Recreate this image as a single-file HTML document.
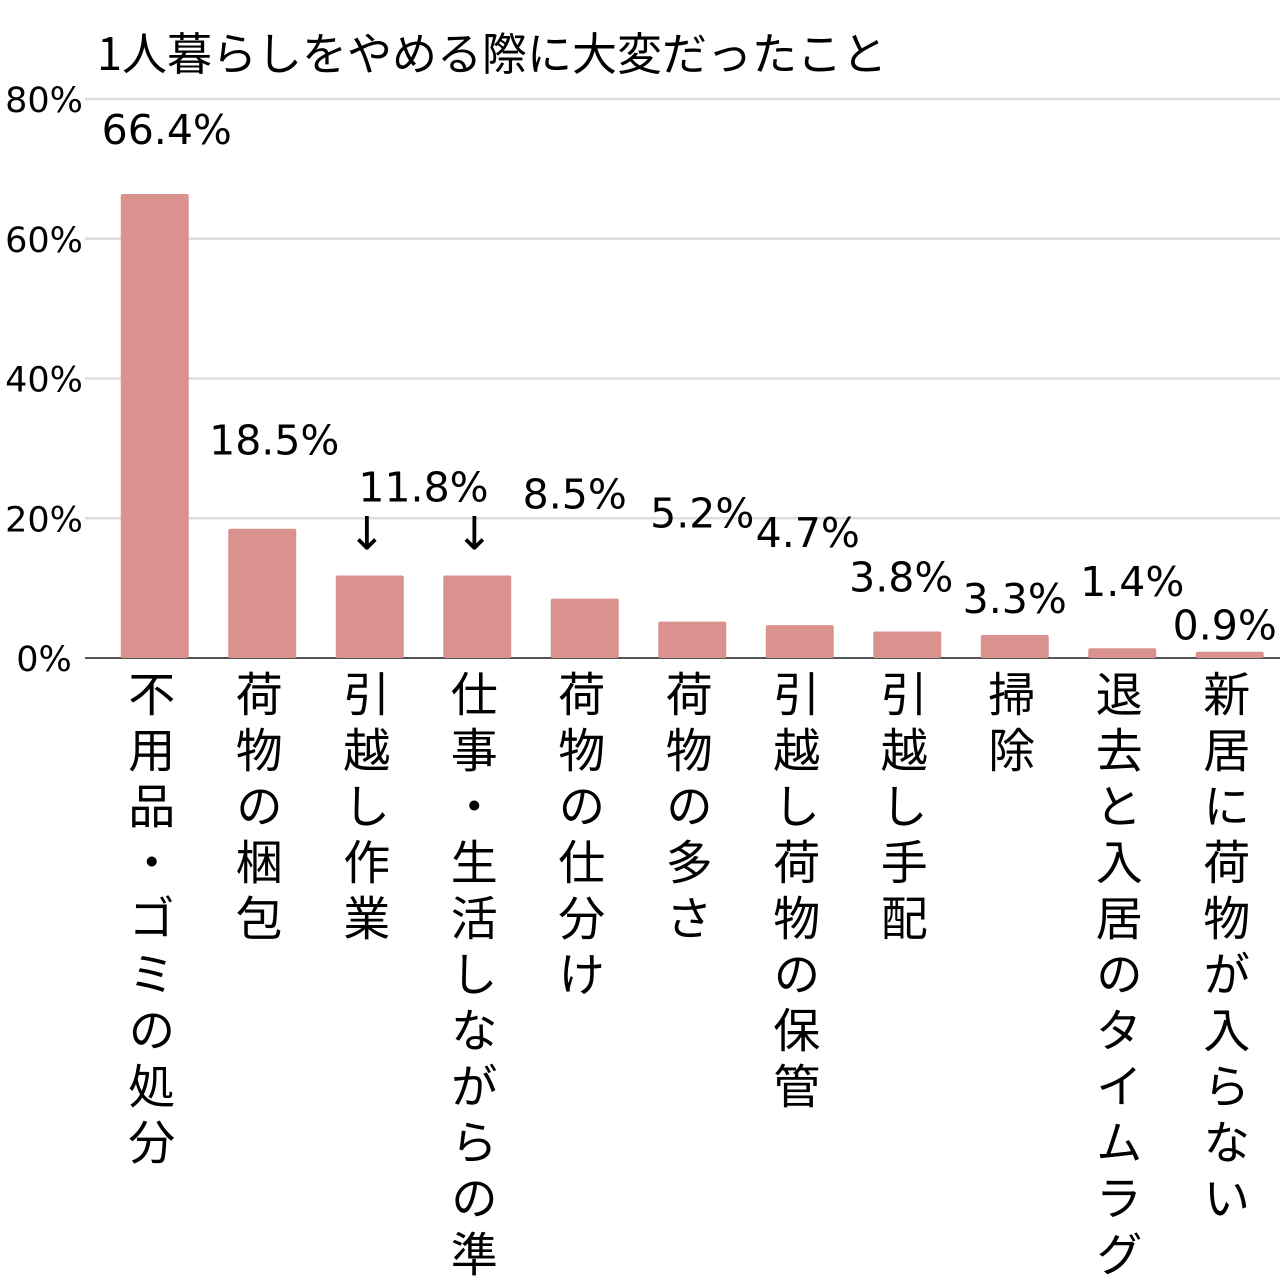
<!DOCTYPE html>
<html><head><meta charset="utf-8"><style>
html,body{margin:0;padding:0;background:#fff;width:1280px;height:1280px;overflow:hidden}
svg text{font-family:"DejaVu Sans","Noto Sans CJK JP",sans-serif;fill:#000}
svg text.cjk{font-family:"Noto Sans CJK JP",sans-serif}
</style></head><body>
<svg id="chart" width="1280" height="1280" xmlns="http://www.w3.org/2000/svg">
<text x="97" y="70" font-size="45" class="cjk">1人暮らしをやめる際に大変だったこと</text>
<g id="grid"></g><g id="bars"></g><g id="labels"></g>
</svg>
<script>
const categories=["不用品・ゴミの処分","荷物の梱包","引越し作業","仕事・生活しながらの準備","荷物の仕分け","荷物の多さ","引越し荷物の保管","引越し手配","掃除","退去と入居のタイムラグ","新居に荷物が入らない"];
const values=[66.4,18.5,11.8,11.8,8.5,5.2,4.7,3.8,3.3,1.4,0.9];
const valueLabels=["66.4%","18.5%","","","8.5%","5.2%","4.7%","3.8%","3.3%","1.4%","0.9%"];
const yTicks=[0,20,40,60,80];
const yTickLabels=["0%","20%","40%","60%","80%"];
const NS="http://www.w3.org/2000/svg";
const y0=658,pxPer=(658-99)/80,x0=101,band=107.5,bw=68;
const y=v=>y0-v*pxPer, xc=i=>x0+band*(i+0.5);
function mk(t,a,p){const e=document.createElementNS(NS,t);for(const k in a)e.setAttribute(k,a[k]);p.appendChild(e);return e;}
const grid=document.getElementById('grid'),bars=document.getElementById('bars'),labels=document.getElementById('labels');
yTicks.forEach((t,i)=>{
 const l=mk('line',{x1:85,x2:1280,y1:y(t),y2:y(t),stroke:t===0?'#555':'#ddd','stroke-width':t===0?2:2.5},grid);
 
 
 const tx=mk('text',{x:44,y:y(t)+13,'font-size':35,'text-anchor':'middle'},grid);
 tx.textContent=yTickLabels[i];
 
 
});
const lift=[50,74,0,0,90,94,78,40,22,52,12];
const dx=[12,12,0,0,-10,10,8,-6,0,10,-5];
values.forEach((v,i)=>{
 const r=mk('rect',{x:xc(i)-bw/2,y:y(v),width:bw,height:y0-y(v),fill:'#d9928d',rx:2},bars);
 
 
 if(valueLabels[i]){
  const t=mk('text',{x:xc(i)+dx[i],y:y(v)-lift[i],'font-size':41,'text-anchor':'middle'},labels);
  t.textContent=valueLabels[i];
  
  
 }
 const c=mk('text',{x:xc(i)-3,y:670,'font-size':47,class:'cjk',style:'writing-mode:vertical-rl;letter-spacing:9px'},labels);
 c.textContent=categories[i];
 
 
});
const sh=mk('text',{x:(xc(2)+xc(3))/2,y:y(values[2])-74,'font-size':41,'text-anchor':'middle'},labels);
sh.textContent=values[2]+"%";


[2,3].forEach(i=>{
 const a=mk('text',{x:xc(i)-3,y:y(values[i])-26,'font-size':46,'text-anchor':'middle'},labels);
 a.textContent="↓";
 
 
});
</script>
</body></html>
